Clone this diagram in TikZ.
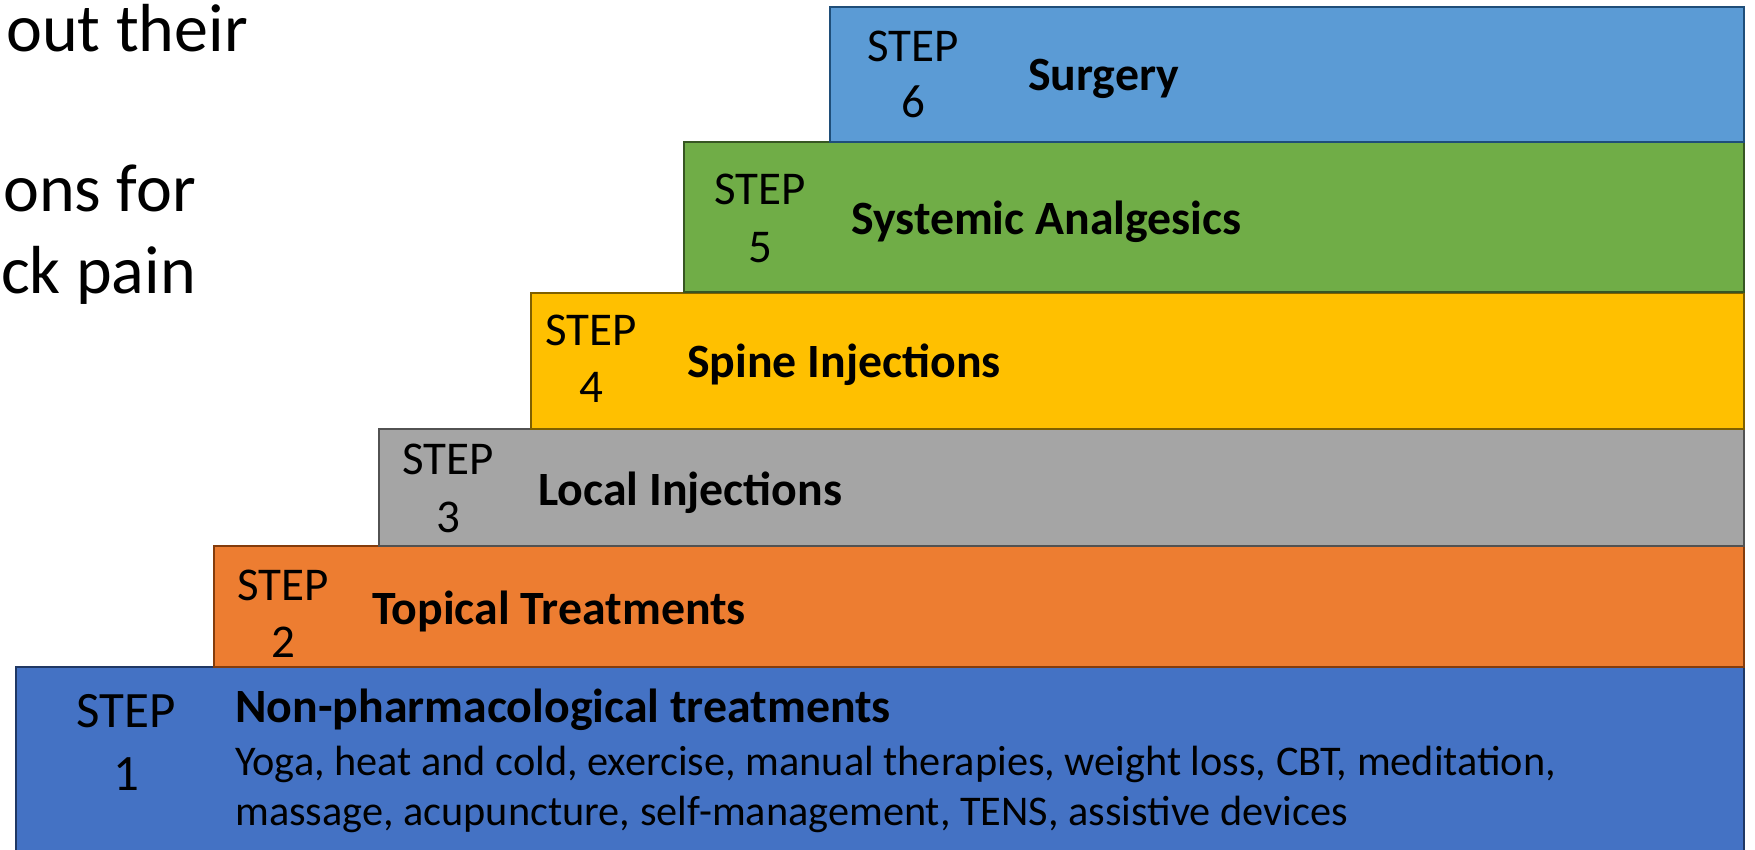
\documentclass[tikz,border=0pt]{standalone}
\usepackage{fontspec}
\setmainfont{Carlito}
\definecolor{fsix}{HTML}{5B9BD5}\definecolor{dsix}{HTML}{1F4E79}
\definecolor{ffive}{HTML}{70AD47}\definecolor{dfive}{HTML}{375623}
\definecolor{ffour}{HTML}{FFC000}\definecolor{dfour}{HTML}{7F6000}
\definecolor{fthree}{HTML}{A5A5A5}\definecolor{dthree}{HTML}{525252}
\definecolor{ftwo}{HTML}{ED7D31}\definecolor{dtwo}{HTML}{843C0C}
\definecolor{fone}{HTML}{4472C4}\definecolor{done}{HTML}{203864}
\begin{document}
\begin{tikzpicture}[x=1pt,y=-1pt,
  stepbox/.style={draw, line width=2.5pt, anchor=north west, inner sep=0pt, outer sep=0pt},
  steplbl/.style={anchor=base, inner sep=0pt, font=\fontsize{47}{56}\selectfont},
  bigsteplbl/.style={anchor=base, inner sep=0pt, font=\fontsize{51}{62}\selectfont},
  titletxt/.style={anchor=base west, inner sep=0pt, font=\fontsize{47.8}{57}\selectfont\bfseries},
  desctxt/.style={anchor=base west, inner sep=0pt, font=\fontsize{42.3}{52}\selectfont},
  slidetxt/.style={anchor=base east, inner sep=0pt, font=\fontsize{68}{82}\selectfont}]
\useasboundingbox (0,0) rectangle (1755,850);
\fill[white] (0,0) rectangle (1755,850);
% slide text (cut off at left)
\node[slidetxt] (s1) at (248,52) {out their};
\node[slidetxt] (s2) at (196,212) {ons for};
\node[slidetxt] (s3) at (196,293) {ck pain};
% boxes
\node[stepbox, fill=fone, draw=done, minimum width=1728pt, minimum height=190pt] (b1) at (16,667) {};
\node[stepbox, fill=ftwo, draw=dtwo, minimum width=1530pt, minimum height=121pt] (b2) at (214,546) {};
\node[stepbox, fill=fthree, draw=dthree, minimum width=1365pt, minimum height=117pt] (b3) at (379,429) {};
\node[stepbox, fill=ffour, draw=dfour, minimum width=1213pt, minimum height=136pt] (b4) at (531,293) {};
\node[stepbox, fill=ffive, draw=dfive, minimum width=1060pt, minimum height=150pt] (b5) at (684,142) {};
\node[stepbox, fill=fsix, draw=dsix, minimum width=914pt, minimum height=135pt] (b6) at (830,7) {};
% step 6
\node[steplbl] (t6a) at (913,62) {STEP};
\node[steplbl] (t6b) at (913,118) {6};
\node[titletxt] (t6c) at (1028,91) {Surgery};
% step 5
\node[steplbl] (t5a) at (760,205) {STEP};
\node[steplbl] (t5b) at (760,262) {5};
\node[titletxt] (t5c) at (851,235) {Systemic Analgesics};
% step 4
\node[steplbl] (t4a) at (591,345) {STEP};
\node[steplbl] (t4b) at (591,402) {4};
\node[titletxt] (t4c) at (687,377) {Spine Injections};
% step 3
\node[steplbl] (t3a) at (448,474) {STEP};
\node[steplbl] (t3b) at (448,532) {3};
\node[titletxt] (t3c) at (538,505) {Local Injections};
% step 2
\node[steplbl] (t2a) at (283,600) {STEP};
\node[steplbl] (t2b) at (283,657) {2};
\node[titletxt] (t2c) at (372,624) {Topical Treatments};
% step 1
\node[bigsteplbl] (t1a) at (126,727) {STEP};
\node[bigsteplbl] (t1b) at (126,790) {1};
\node[titletxt] (t1c) at (235,722) {Non-pharmacological treatments};
\node[desctxt] (t1d) at (235,775) {Yoga, heat and cold, exercise, manual therapies, weight loss, CBT, meditation,};
\node[desctxt] (t1e) at (235,825) {massage, acupuncture, self-management, TENS, assistive devices};
\end{tikzpicture}
\end{document}
